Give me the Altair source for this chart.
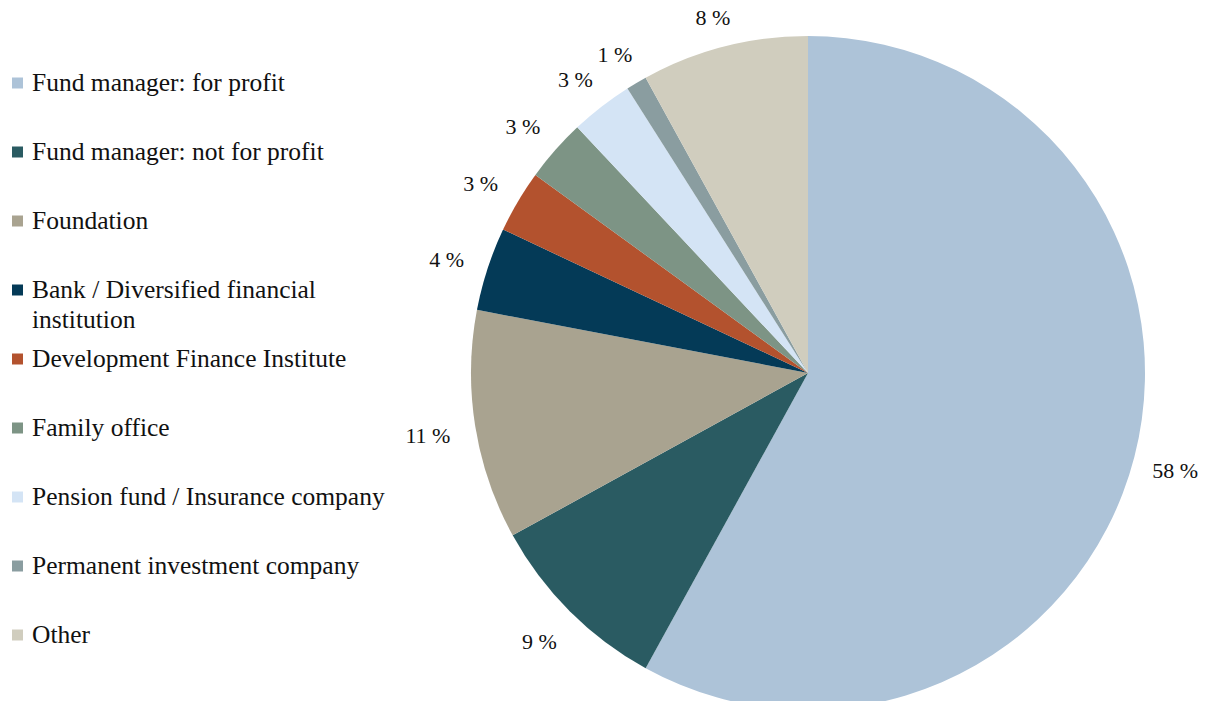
import altair as alt
import pandas as pd

categories = [
    "Fund manager: for profit",
    "Fund manager: not for profit",
    "Foundation",
    "Bank / Diversified financial\ninstitution",
    "Development Finance Institute",
    "Family office",
    "Pension fund / Insurance company",
    "Permanent investment company",
    "Other",
]
shares = [58, 9, 11, 4, 3, 3, 3, 1, 8]
colors = [
    "#adc3d8",
    "#2a5b62",
    "#a9a390",
    "#043a57",
    "#b3522e",
    "#7d9485",
    "#d4e4f5",
    "#8a9da0",
    "#d0cdbe",
]

df = pd.DataFrame({"category": categories, "share": shares, "idx": list(range(len(categories)))})

FONT = "Liberation Serif"
color_scale = alt.Scale(domain=categories, range=colors)
base = alt.Chart(df)

arcs = base.mark_arc(outerRadius=337).encode(
    theta=alt.Theta("share:Q", stack=True),
    order=alt.Order("idx:Q"),
    color=alt.Color("category:N", scale=color_scale, legend=None),
    x=alt.value(800),
    y=alt.value(365),
)

# label at mid-angle of each slice, pushed out by half its text box in the radial direction
labels = base.transform_calculate(
    label="datum.share + ' %'"
).transform_window(
    cum="sum(share)", sort=[alt.SortField("idx")], frame=[None, 0]
).transform_joinaggregate(
    total="sum(share)"
).transform_calculate(
    mid="(datum.cum - datum.share / 2) / datum.total * 2 * PI",
).transform_calculate(
    rad="359 + 7 * abs(cos(datum.mid)) + 5.5 * length(datum.label) * abs(sin(datum.mid))"
).mark_text(
    font=FONT, fontSize=22, color="#111111", align="center", baseline="middle",
    dx=-3, dy=3
).encode(
    theta=alt.Theta("mid:Q", scale=None, stack=None),
    radius=alt.Radius("rad:Q", scale=None),
    text=alt.Text("label:N"),
    x=alt.value(800),
    y=alt.value(365),
)

ypos = alt.Y("category:N", sort=categories,
             scale=alt.Scale(domain=categories, range=[75, 627], padding=0), axis=None)

leg_sym = base.mark_point(shape="square", filled=True, size=121, opacity=1).encode(
    x=alt.value(9.5),
    y=ypos,
    color=alt.Color("category:N", scale=color_scale, legend=None),
)

leg_txt = base.mark_text(
    align="left", baseline="middle", font=FONT, fontSize=25.5,
    lineBreak="\n", lineHeight=30, color="#111111"
).encode(
    x=alt.value(24),
    y=ypos,
    text=alt.Text("category:N"),
)

chart = alt.layer(arcs, labels, leg_sym, leg_txt).resolve_scale(
    theta="independent", radius="independent"
).properties(
    width=1206, height=693, padding=0,
    autosize=alt.AutoSizeParams(type="none"),
).configure_view(stroke=None)

chart.save("out.html", embed_options={"renderer": "svg", "actions": False})
